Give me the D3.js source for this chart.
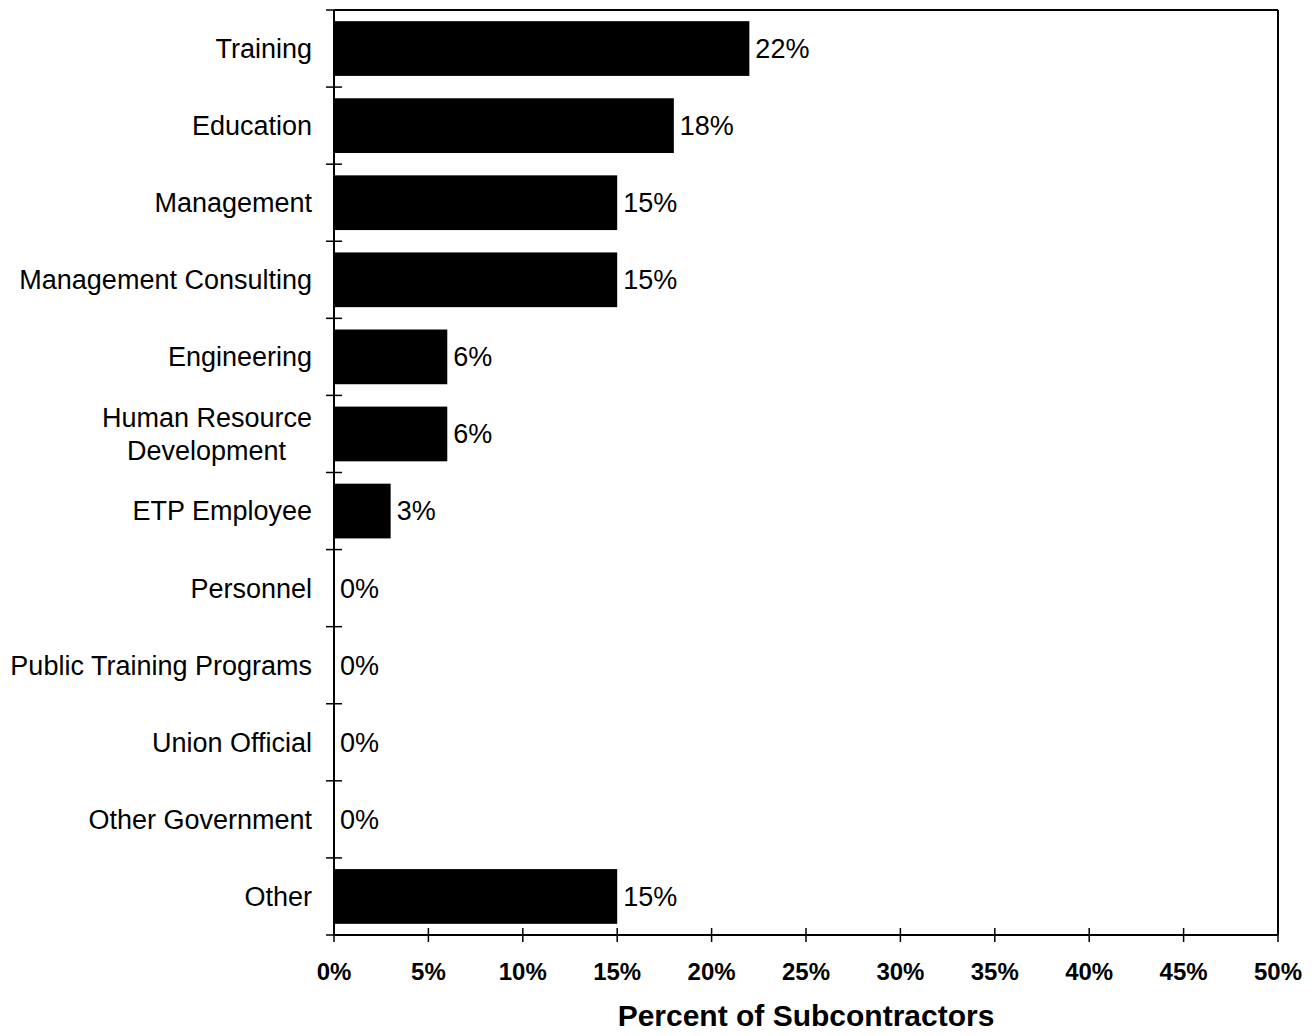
<!DOCTYPE html>
<html><head><meta charset="utf-8">
<script src="https://cdn.jsdelivr.net/npm/d3@7"></script>
<style>body{margin:0;background:#fff}svg{display:block}</style>
</head><body>
<script>
const categories = ["Training","Education","Management","Management Consulting","Engineering","Human Resource Development","ETP Employee","Personnel","Public Training Programs","Union Official","Other Government","Other"];
const labelLines = [["Training"],["Education"],["Management"],["Management Consulting"],["Engineering"],["Human Resource","Development"],["ETP Employee"],["Personnel"],["Public Training Programs"],["Union Official"],["Other Government"],["Other"]];
const values = [22,18,15,15,6,6,3,0,0,0,0,15];
const xTicks = [0,5,10,15,20,25,30,35,40,45,50];
const xTitle = "Percent of Subcontractors";

const W=1316,H=1036;
const m={left:334,right:1278,top:10,bottom:935};
const svg=d3.select("body").append("svg").attr("width",W).attr("height",H);
const x=d3.scaleLinear().domain([0,50]).range([m.left,m.right]);
const y=d3.scaleBand().domain(categories).range([m.top,m.bottom]).paddingInner(0.29).paddingOuter(0.145);
const step=y.step();
const font="Arial, 'Liberation Sans', sans-serif";

// frame
svg.append("line").attr("x1",m.left).attr("x2",m.right).attr("y1",m.top).attr("y2",m.top).attr("stroke","#000").attr("stroke-width",2);
svg.append("line").attr("x1",m.right).attr("x2",m.right).attr("y1",m.top).attr("y2",m.bottom).attr("stroke","#000").attr("stroke-width",2);

// bars
svg.selectAll("rect.bar").data(categories).enter().append("rect")
 .attr("x",x(0)).attr("y",d=>y(d)).attr("width",(d,i)=>x(values[i])-x(0)).attr("height",y.bandwidth()).attr("fill","#000");

// value labels
svg.selectAll("text.val").data(categories).enter().append("text")
 .attr("x",(d,i)=>x(values[i])+6).attr("y",d=>y(d)+y.bandwidth()/2).attr("dy","0.35em")
 .attr("font-family",font).attr("font-size",27).text((d,i)=>values[i]+"%");

// y axis line + ticks between categories
svg.append("line").attr("x1",m.left).attr("x2",m.left).attr("y1",m.top).attr("y2",m.bottom).attr("stroke","#000").attr("stroke-width",2);
const yTickPos=d3.range(categories.length+1).map(i=>m.top+i*step);
svg.selectAll("line.yt").data(yTickPos).enter().append("line")
 .attr("x1",m.left-8).attr("x2",m.left+8).attr("y1",d=>d).attr("y2",d=>d).attr("stroke","#000").attr("stroke-width",1.5);

// category labels
const lab=svg.selectAll("text.cat").data(categories).enter().append("text")
 .attr("text-anchor","end").attr("font-family",font).attr("font-size",27)
 .attr("transform",d=>`translate(${m.left-22},${y(d)+y.bandwidth()/2})`);
lab.each(function(d,i){
  const lines=labelLines[i];const n=lines.length;
  d3.select(this).selectAll("tspan").data(lines).enter().append("tspan")
   .attr("x",(t,j)=> (n>1 && j===1)? -26 : 0)
   .attr("y",(t,j)=>(j-(n-1)/2)*33).attr("dy","0.35em").text(t=>t);
});

// x axis
svg.append("line").attr("x1",m.left).attr("x2",m.right).attr("y1",m.bottom).attr("y2",m.bottom).attr("stroke","#000").attr("stroke-width",2);
svg.selectAll("line.xt").data(xTicks).enter().append("line")
 .attr("x1",d=>x(d)).attr("x2",d=>x(d)).attr("y1",m.bottom-7).attr("y2",m.bottom+7).attr("stroke","#000").attr("stroke-width",1.5);
svg.selectAll("text.xl").data(xTicks).enter().append("text")
 .attr("x",d=>x(d)).attr("y",980).attr("text-anchor","middle").attr("font-family",font).attr("font-size",24).attr("font-weight","bold").text(d=>d+"%");
svg.append("text").attr("x",806).attr("y",1026).attr("text-anchor","middle").attr("font-family",font).attr("font-size",30).attr("font-weight","bold").text(xTitle);
</script>
</body></html>
